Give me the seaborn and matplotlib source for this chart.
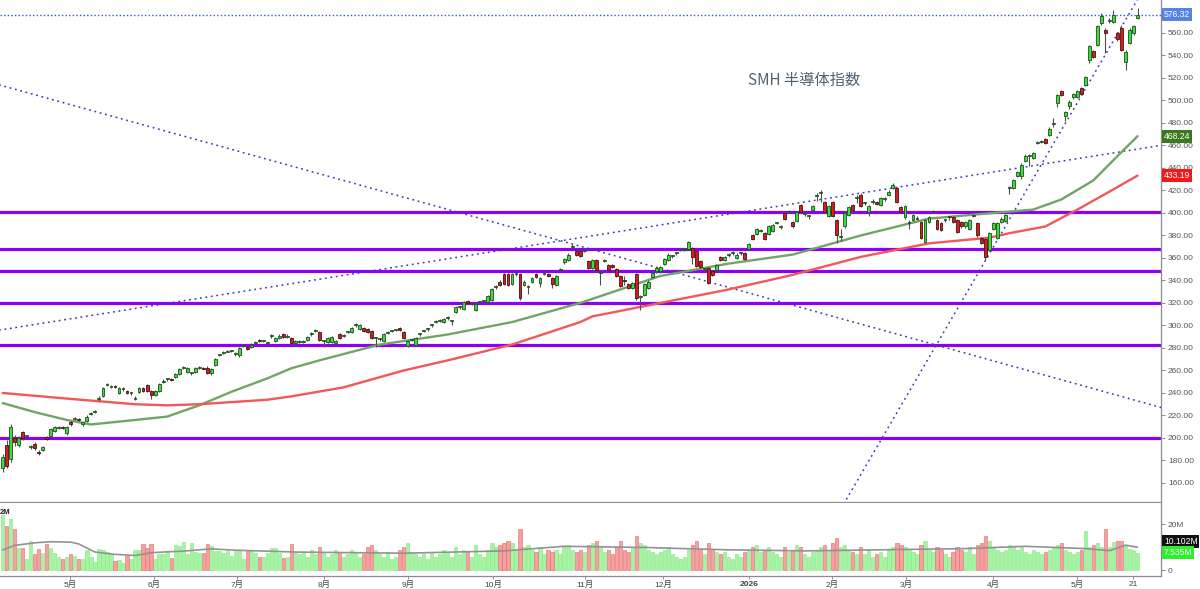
import numpy as np
import matplotlib
matplotlib.use("Agg")
import matplotlib.pyplot as plt
import seaborn as sns

# ---------------- data ----------------
opens = [173,194,181,200,194,205,202,192,195,187.5, 189,201,202,206,209,209.5,204,214,217,217,
         212,215,221,223,235,237,247,245.5,245.5,240, 243.5,242,240,235,241,244,247,242,238,242,
         250,252,252,254,257,262,259,257.5,259,262, 262,262,258,265,273.5,275.5,276.5,277,275,274,
         281.5,281,281,284.5,286.5,286,284,290.5,286,289, 292,290,289,284,285.5,285.5,287,292,295,294,
         286,285,285,284,292,291,294,294,300,297, 298,297,295,289,288,286,293.5,295,296,298,
         294,282,287,283,292,295,296.5,300,303,304, 303,306.5,304,312,316,315,322,319,314,321,
         322,321,323,334,339,346,346,337,345.5,346, 336,334.5,339,346,338,346,346,342,336,349,
         356,358,370,366,366,366.5,357,351,358,346.5, 357.5,354,354,350,344,340,337,333,346,325,
         327,333,343,348,348,355,358,362,364,367, 367,368,369,366,357,350,351,348,349,361,
         358,362.5,364.5,360,364,364,368,380,381,384, 382,381,384,391,387.5,400,401,392,393,407,
         399,397,403,415,417.5,410,397,410,394,379, 388,398,407,413,416,408.5,401,410,410,407,
         412.5,416,422,422,405,396,391,394,395,392, 374,392,401,394,391,394,396,396,394,392,
         388,386,397,391,378,377,367,386,378,392, 393,422,422,433,433,446,450.5,449,462.5,463.5,
         466,469,479.5,498,508,486,495,503,503,511, 514,536,544,549,569,563,571,570,560,564,
         534,551,560,573]
closes = [183,175,210,196,200,200,202.5,192.5,191,187, 192,199,208,210,209.5,209,210,212,217.5,216,
          214,219,221.5,223.5,235.5,244,247.5,246,245,244, 244,240,240.5,235.5,244,242,242,238,242,248,
          250.5,252.5,251.5,257,261,262.5,262,257.5,262,262.5, 261.5,258,261,270,274,276,277,277.5,275.5,280,
          282,279,283,285,286,286.5,284.5,291,289,291, 290,290.5,284,286,285.5,286,290,292.5,295.5,287,
          286,289,290,286,289,291.5,294,298,300.5,300, 295,294,289,289,288.5,292,293.5,295.5,296,296,
          289,286,287.5,289,292.5,295.5,296.5,300,303.5,304.5, 306,306.5,304,316,316.5,321,320,319,319,321,
          322.5,326,332,334.5,336,337,336,346,345.5,324, 339,334.5,342,343,342,346.5,344,337,344,349.5,
          359,363,370,363,362,366.5,351,358,349,346.5, 357.5,349,352,344,335,339.5,333,338,324,325,
          337,339,347,351,352,359,363,362,364,367, 367.5,374,361,353,352,350,338,345,354,358,
          361,362.5,364.5,363,364,359,372,377,386,384.5, 377,388,389,391,387.5,395,401.5,388,401,401,
          399,397,406,415.5,417.5,401,406,397,380,379.5, 400,405,403,413,406,408.5,406,410,408,413,
          412.5,419,425,410,401,406,391,398,395.5,378, 394,396,401,386,385,394,396,392,383,388,
          392,394,397.5,380,373,361,382,391,391,395, 398,422.5,429,436,443,451,450.5,453,462.5,463.5,
          462,475,479.5,505,505,490,499,506,508,506, 521,548,539,566,575,560,571,576,555,545,
          543,563,566,576.32]
highs = [186,198,212,203,202,206,203,194,196,189, 193,202,209,211,211,211,211,215,219,218,
         215,220,223,225,237,245,249,247,247,245, 245,243,241,237,245,245,248,243,243,249,
         252,253,253,258,262,264,263,259,263,264, 263,264,262,271,275,277,278,278,276,281,
         283,282,284,286,288,287,285,292,290,292, 293,292,290,287,287,287,291,294,297,295,
         287,290,291,287,293,292,295,299,302,301, 299,298,296,290,289,293,295,296,297,299,
         295,287,288,290,293,296,298,301,305,306, 307,308,305,317,317,322,323,320,320,322,
         323,327,333,336,340,347,347,347,347,347, 340,336,343,347,343,348,347,343,345,351,
         360,364,372,367,367,368,358,359,359,348, 359,355,355,351,345,344,338,339,347,327,
         338,340,348,352,353,360,364,363,365,368, 369,375,370,367,358,351,352,349,355,362,
         362,364,366,364,365,365,373,381,387,386, 383,389,390,392,389,401,403,393,402,408,
         400,398,407,418,420,411,407,411,395,386, 401,406,408,416,418,410,407,412,411,414,
         414,420,427,423,406,407,394,399,397,393, 395,397,403,395,392,395,397,397,395,393,
         393,395,399,392,379,378,383,392,392,396, 399,424,430,437,444,452,452,454,464,465,
         467,476,484,506,509,491,500,507,509,512, 522,549,545,567,578,564,573,580,561,567,
         545,564,567,582]
lows = [170,173,179,193,192,198,201,190,189,185, 188,198,201,205,208,208,203,211,216,215,
        211,214,220,222,233,236,246,244,244,239, 242,239,238,234,240,241,241,235,237,241,
        249,251,251,253,256,261,258,256,258,261, 261,257,256,264,273,275,276,276,273,272,
        281,278,280,284,285,285,283,289,285,288, 289,289,283,283,284,284,286,291,294,286,
        281,284,284,283,288,290,293,293,299,296, 294,293,288,281,286,285,292,294,295,295,
        288,281,286,282,291,294,295,299,302,303, 302,305,300,311,315,314,319,318,313,320,
        321,320,322,332,335,336,335,336,344,323, 335,328,338,342,334,345,343,333,335,348,
        355,357,368,362,361,365,350,350,348,336, 356,348,351,343,334,336,332,332,323,314,
        326,332,342,347,347,354,357,360,363,366, 366,367,355,352,351,348,337,344,348,357,
        357,361,363,359,363,358,367,376,380,383, 376,380,383,390,386,394,400,387,392,400,
        397,395,402,411,410,400,396,396,373,375, 387,397,402,409,405,407,397,408,407,406,
        411,415,421,409,400,395,386,393,394,377, 373,391,400,385,384,392,394,391,382,387,
        387,385,396,379,372,358,366,385,377,391, 392,417,421,432,430,445,442,448,461,462,
        461,468,476,494,504,482,492,501,502,505, 513,533,538,548,567,542,569,569,553,544,
        527,550,558,572]
# volume in millions of shares
volumes = [24,19.3,22.5,18,9.9,9.9,5,13,7,9.4, 7.4,11.6,9.9,7.7,6,4.8,6,7,6.5,4.8,
           5,8.8,6,3.6,9.4,9.1,8,7,4,4.5, 3.3,6.2,5,9.1,8.8,11.3,9.9,11.3,4.8,7,
           7,8.1,5.5,10.9,10.6,12.3,7,12,8,7.4, 7.4,11.7,10.6,8.4,8.4,7.4,8.4,6.5,9.1,8.8,
           4.8,8.8,8.4,7.4,6,6,7.7,9.9,9.9,7.4, 5.5,6,11.7,7.7,7,8,6,9,7,10,
           8,6,7,9,8,6,7,9,8,6, 7,10,11,9,7,6,8,5,6,9,
           10,12,8,7,6,7,5,8,6,7, 9,8,6,10,7,9,8,6,11,7,
           6,9,12,10,11,12,13,12,9,18, 10,11,9,8,10,7,9,8,9,7,
           10,11,9,8,9,8,11,12,13,10, 8,9,7,10,13,9,8,10,15,12,
           11,9,8,7,8,9,10,7,6,5, 6,9,11,13,9,7,12,9,8,7,
           8,6,5,7,6,8,9,10,11,8, 9,10,8,7,6,10,8,9,11,10,
           7,6,8,9,10,11,9,12,14,10, 11,9,8,7,10,7,9,6,7,8,
           6,9,10,12,11,10,9,8,7,11, 13,9,8,10,9,7,6,8,10,9,
           8,10,7,11,12,15,13,10,9,8, 9,11,10,9,10,8,7,9,8,7,
           8,9,10,11,12,9,8,7,8,9, 17,10,11,12,10,18,10,12.5,13,13,
           11,9.5,9,7.535]

# moving averages (candle index, value)
ma_green_idx = [0,8,16,22,33,41,49,57,66,72,79,94,111,127,144,164,181,197,214,231,247,257,264,272,277,283]
ma_green_val = [231,223,216,212,216,219,229,241,253,262,269,283,292,303,320,344,355,363,380,395,400,403,412,429,447,468.24]
ma_red_idx = [0,16,33,41,49,66,72,85,100,111,127,144,147,164,181,197,214,231,246,251,260,268,276,283]
ma_red_val = [240,235,230,229,230,234,237,245,260,269,283,303,308,320,332,345,361,373,378,382,388,403,419,433.19]
vol_ma_idx = [0,3,8,12,17,19,23,28,33,37,41,45,52,58,66,73,100,125,140,160,180,200,220,240,255,270,276,280,283]
vol_ma_val = [8.9,10.9,12,12.5,12.3,11.5,8,7,6.5,7.7,8.1,8.4,9.4,8.8,8.4,8,7.5,8.5,10.5,10,9,8.5,9,9.5,10.5,9.5,8.6,11,10.102]

# support / resistance levels and trend lines (index, price) endpoints
levels = [401, 368, 348, 320, 283, 200]
last_price = 576.32
trend_down = ([-1, 289], [514.0, 227.0])
trend_up = ([-1, 289], [295.8, 460.2])
trend_steep = ([209, 284], [136.9, 596.0])

tick_pos = [16.8, 37.7, 58.4, 80.1, 101.1, 122.3, 145.2, 164.7, 186.1, 206.8, 225.3, 247.0, 267.9, 281.9]
tick_lbl = ['5月', '6月', '7月', '8月', '9月', '10月', '11月', '12月', '2026', '2月', '3月', '4月', '5月', '21']
price_ticks = list(range(160, 561, 20))

# ---------------- styling ----------------
sns.set_theme(style="white")
plt.rcParams['font.family'] = ['Liberation Sans', 'Noto Sans CJK JP', 'DejaVu Sans']

W, H = 1200, 589
fig = plt.figure(figsize=(W / 100, H / 100), dpi=100)
fig.patch.set_facecolor('white')
ax = fig.add_axes([0, (H - 502) / H, 1161 / W, 502 / H])
axv = fig.add_axes([0, (H - 576) / H, 1161 / W, 73 / H])

n = len(closes)
assert len(opens) == n and len(highs) == n and len(lows) == n and len(volumes) == n
idx = np.arange(n)
o = np.array(opens, float); c = np.array(closes, float)
hi = np.array(highs, float); lo = np.array(lows, float)
up = c >= o

x0, x1 = -2.7 / 4.01, (1161 - 2.7) / 4.01
for a in (ax, axv):
    a.set_xlim(x0, x1)
    a.set_facecolor('white')
    for s in ('left', 'top'):
        a.spines[s].set_visible(False)
    for s in ('right', 'bottom'):
        a.spines[s].set_color('#8c8c8c')
        a.spines[s].set_linewidth(0.9)
ax.set_ylim(143.1, 589.3)
axv.set_ylim(-2.4, 29.3)

# purple horizontal levels
for lv in levels:
    ax.axhline(lv, color='#8e00f0', lw=2.3, zorder=2)

# dotted lines
dot = (0, (1.2, 2.4))
ax.plot(*trend_down, color='#3a3ab8', lw=1.1, linestyle=dot, zorder=3)
ax.plot(*trend_up, color='#3a3ab8', lw=1.1, linestyle=dot, zorder=3)
ax.plot(*trend_steep, color='#3a3ab8', lw=1.1, linestyle=dot, zorder=3)
ax.axhline(last_price, color='#2f55e0', lw=1.0, linestyle=(0, (1, 1.6)), zorder=3)

# moving averages
sns.lineplot(x=ma_green_idx, y=ma_green_val, ax=ax, color='#70a565', lw=1.7, zorder=3)
sns.lineplot(x=ma_red_idx, y=ma_red_val, ax=ax, color='#f25858', lw=1.7, zorder=3)

# candles
body_lo = np.minimum(o, c)
body_h = np.maximum(np.abs(c - o), 0.9)
ax.vlines(idx, lo, hi, color='#505050', lw=0.8, zorder=4)
ax.bar(idx[up], body_h[up], bottom=body_lo[up], width=0.72, color='#3cdc3c',
       edgecolor='#1d4f1d', linewidth=0.6, zorder=5)
ax.bar(idx[~up], body_h[~up], bottom=body_lo[~up], width=0.72, color='#d02020',
       edgecolor='#4a1010', linewidth=0.6, zorder=5)

# price axis on right
ax.yaxis.tick_right()
ax.set_yticks(price_ticks)
ax.set_yticklabels([f"{v:.2f}" for v in price_ticks])
ax.tick_params(axis='y', right=True, length=3, width=0.7, color='#8c8c8c', pad=2,
               labelsize=6, labelcolor='#555555')
ax.set_xticks([])
ax.grid(False)

ytr = ax.get_yaxis_transform()
for val, fc in ((last_price, '#5585e2'), (ma_green_val[-1], '#3b7a1e'), (ma_red_val[-1], '#f01a1a')):
    ax.text(1.0 + 3 / 1161, val, f"{val:.2f}", transform=ytr, ha='left', va='center',
            fontsize=6.2, color='white', zorder=10, clip_on=False,
            bbox=dict(boxstyle='square,pad=0.22', fc=fc, ec='none'))

# title
fig.text(748 / W, 1 - 80 / H, 'SMH 半導体指数', ha='left', va='center', fontsize=11,
         color='#4f6275', family=['Noto Sans CJK JP', 'DejaVu Sans'])

# volume panel
vol = np.array(volumes, float)
axv.bar(idx[up], vol[up], width=0.8, color='#a3f5a0', edgecolor='#86e686', linewidth=0.4, zorder=3)
axv.bar(idx[~up], vol[~up], width=0.8, color='#f7a0a0', edgecolor='#e06a6a', linewidth=0.4, zorder=3)
sns.lineplot(x=vol_ma_idx, y=vol_ma_val, ax=axv, color='#939393', lw=1.2, zorder=4)
axv.yaxis.tick_right()
axv.set_yticks([0, 20])
axv.set_yticklabels(['0', '20M'])
axv.tick_params(axis='y', right=True, length=3, width=0.7, color='#8c8c8c', pad=2,
                labelsize=6, labelcolor='#555555')
axv.set_xticks(tick_pos)
axv.set_xticklabels(tick_lbl)
axv.tick_params(axis='x', bottom=True, length=2.5, width=0.7, color='#8c8c8c', pad=1,
                labelsize=6, labelcolor='#444444')
for t in axv.get_xticklabels():
    if t.get_text() == '2026':
        t.set_fontweight('bold')
axv.set_xlabel(''); axv.set_ylabel(''); ax.set_xlabel(''); ax.set_ylabel('')
axv.grid(False)

vtr = axv.get_yaxis_transform()
axv.text(1.0 + 3 / 1161, 12.6, '10.102M', transform=vtr, ha='left', va='center', fontsize=6.2,
         color='white', clip_on=False, zorder=10, bbox=dict(boxstyle='square,pad=0.2', fc='#111111', ec='none'))
axv.text(1.0 + 3 / 1161, 7.8, '7.535M', transform=vtr, ha='left', va='center', fontsize=6.2,
         color='white', clip_on=False, zorder=10, bbox=dict(boxstyle='square,pad=0.2', fc='#2cf02c', ec='none'))
fig.text(0, 1 - 513 / H, '2M', ha='left', va='center', fontsize=5.5, color='#222222', fontweight='bold')

fig.savefig('out.png', dpi=100, facecolor='white')
